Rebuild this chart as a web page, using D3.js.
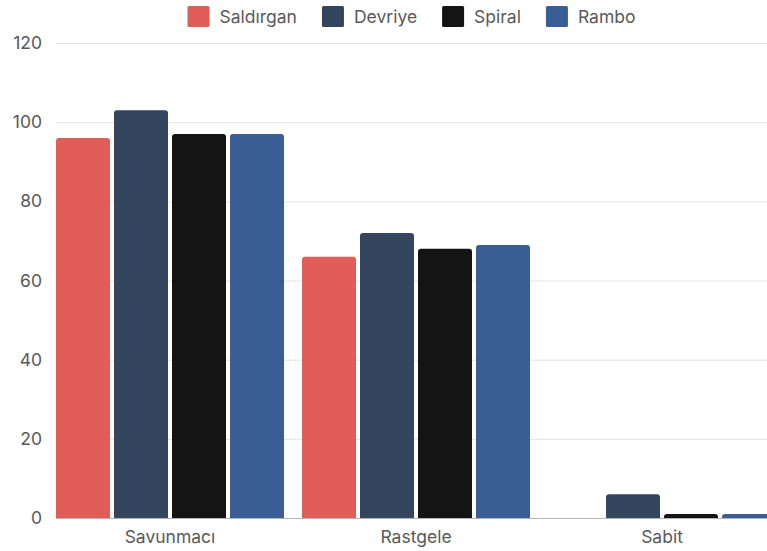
<!DOCTYPE html>
<html><head><meta charset="utf-8">
<script src="https://cdn.jsdelivr.net/npm/d3@7"></script>
<style>body{margin:0;background:#fff;overflow:hidden}svg{display:block;font-family:Inter,"Noto Sans",sans-serif}</style>
</head><body><svg id="c" width="767" height="551"></svg>
<script>
const categories = ["Savunmacı", "Rastgele", "Sabit"];
const seriesNames = ["Saldırgan", "Devriye", "Spiral", "Rambo"];
const saldirgan = [96, 66, 0];
const devriye = [103, 72, 6];
const spiral = [97, 68, 1];
const rambo = [97, 69, 1];
const seriesValues = [saldirgan, devriye, spiral, rambo];
const colors = ["#e05e57", "#34465d", "#141414", "#3b5d95"];
const yTicks = [0, 20, 40, 60, 80, 100, 120];

(function () {
const svg = d3.select("#c");
const mLeft = 56, mRight = 767, mTop = 43, mBottom = 518;
const fs = 17.5, txt = "#595959";
const y = d3.scaleLinear().domain([0, 120]).range([mBottom, mTop]);
const x0 = d3.scaleBand().domain(categories).range([mLeft, mLeft + 246 * 3 - 18]).paddingInner(18 / 246).paddingOuter(0);
const x1 = d3.scaleBand().domain(seriesNames).range([0, x0.bandwidth()]).paddingInner(4 / 58).paddingOuter(0);

// gridlines
svg.append("g").selectAll("line").data(yTicks.filter(d => d > 0)).join("line")
  .attr("x1", mLeft).attr("x2", mRight).attr("y1", d => y(d) + 0.5).attr("y2", d => y(d) + 0.5)
  .attr("stroke", "#e3e3e3").attr("stroke-width", 1);

// y axis labels
const yAxis = d3.axisLeft(y).tickValues(yTicks).tickSize(0).tickPadding(14);
const yg = svg.append("g").attr("transform", `translate(${mLeft},0)`).call(yAxis);
yg.select(".domain").remove();
yg.selectAll("text").attr("font-size", fs).attr("fill", txt).attr("font-family", "Inter");

// bars
const groups = svg.append("g").selectAll("g").data(categories).join("g")
  .attr("transform", d => `translate(${x0(d)},0)`);
function roundTop(x, yTop, w, h, r) {
  r = Math.min(r, h, w / 2);
  if (h <= 0) return "";
  return `M${x},${yTop + h}V${yTop + r}Q${x},${yTop} ${x + r},${yTop}H${x + w - r}Q${x + w},${yTop} ${x + w},${yTop + r}V${yTop + h}Z`;
}
groups.selectAll("path").data((c, ci) => seriesNames.map((s, si) => ({s, si, v: seriesValues[si][ci]}))).join("path")
  .attr("d", d => roundTop(x1(d.s), y(d.v), x1.bandwidth(), y(0) - y(d.v), 3))
  .attr("fill", d => colors[d.si]);

// x axis
const xAxis = d3.axisBottom(x0).tickSize(0).tickPadding(12.5);
const xg = svg.append("g").attr("transform", `translate(0,${mBottom})`).call(xAxis);
xg.select(".domain").remove();
xg.selectAll("text").attr("font-size", fs).attr("fill", txt).attr("font-family", "Inter");
svg.append("line").attr("x1", mLeft).attr("x2", mRight).attr("y1", mBottom + 0.5).attr("y2", mBottom + 0.5)
  .attr("stroke", "#b5b5b5").attr("stroke-width", 1);

// legend
const lg = svg.append("g");
const items = lg.selectAll("g").data(seriesNames).join("g");
items.append("rect").attr("width", 22).attr("height", 21).attr("y", 6).attr("rx", 1.5)
  .attr("fill", (d, i) => colors[i]);
items.append("text").attr("x", 32).attr("y", 22.5).attr("font-size", fs).attr("fill", txt)
  .attr("font-family", "Inter").text(d => d);
let xpos = 0;
const offs = [];
items.each(function (d, i) {
  const w = d3.select(this).select("text").node().getComputedTextLength();
  offs.push(xpos);
  xpos += 32 + w + (i < seriesNames.length - 1 ? 25 : 0);
});
const startX = (mLeft + mRight) / 2 - xpos / 2;
items.attr("transform", (d, i) => `translate(${startX + offs[i]},0)`);
})();
</script></body></html>
